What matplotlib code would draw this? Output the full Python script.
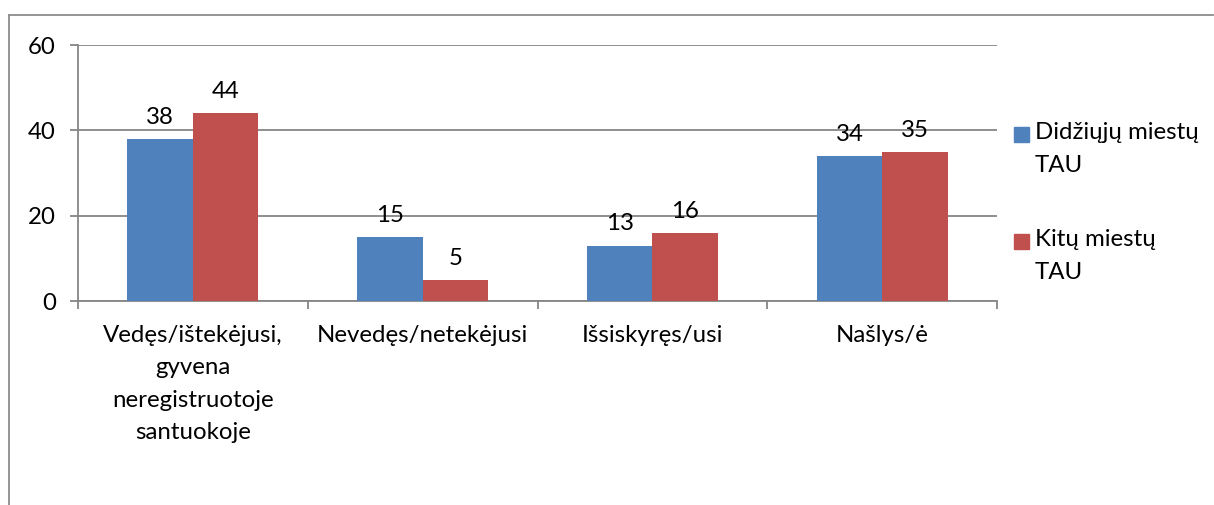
import matplotlib
matplotlib.use("Agg")
import matplotlib.pyplot as plt
from matplotlib.patches import Rectangle
from matplotlib.lines import Line2D
import numpy as np

categories = ["Vedęs/ištekėjusi,\ngyvena\nneregistruotoje\nsantuokoje",
              "Nevedęs/netekėjusi", "Išsiskyręs/usi", "Našlys/ė"]
series_names = ["Didžiųjų miestų\nTAU", "Kitų miestų\nTAU"]
big_cities = [38, 15, 13, 34]
other_cities = [44, 5, 16, 35]
yticks = [0, 20, 40, 60]

blue = "#4F81BD"
red = "#C0504D"
grid_c = "#868686"
FONT = "Lato"
FS = 17.3

plt.rcParams['font.family'] = [FONT, 'DejaVu Sans']

W, H = 1214, 505
fig = plt.figure(figsize=(W / 100, H / 100), dpi=100)
ax = fig.add_axes([78 / W, 1 - 301 / H, (997 - 78) / W, (301 - 45) / H])

x = np.arange(len(categories))
bw = 0.285
b1 = ax.bar(x - bw / 2, big_cities, bw, color=blue, zorder=3)
b2 = ax.bar(x + bw / 2, other_cities, bw, color=red, zorder=3)
for bars, vals in ((b1, big_cities), (b2, other_cities)):
    for r, v in zip(bars, vals):
        ax.annotate(str(v), (r.get_x() + r.get_width() / 2, v),
                    xytext=(0, 8), textcoords="offset points",
                    ha="center", va="bottom", fontsize=FS, color="black")

ax.set_xlim(-0.5, len(categories) - 0.5)
ax.set_ylim(0, 60)
ax.set_yticks(yticks)
ax.set_yticklabels([str(t) for t in yticks], fontsize=FS)
ax.yaxis.grid(True, color=grid_c, linewidth=1.3, zorder=0)
ax.tick_params(axis="y", length=6, width=1.3, color=grid_c, pad=10)

# category ticks at boundaries, labels at centers
ax.set_xticks(np.arange(len(categories) + 1) - 0.5)
ax.set_xticklabels([])
ax.set_xticks(x, minor=True)
ax.set_xticklabels(categories, minor=True, fontsize=FS, linespacing=1.68)
ax.tick_params(axis="x", which="major", length=6, width=1.3, color=grid_c)
ax.tick_params(axis="x", which="minor", length=0, pad=17)

for s in ("top", "right"):
    ax.spines[s].set_visible(False)
for s in ("left", "bottom"):
    ax.spines[s].set_color(grid_c)
    ax.spines[s].set_linewidth(1.3)

# outer chart border
fig.add_artist(Line2D([8.5 / W, 8.5 / W], [0, 1 - 15 / H], transform=fig.transFigure,
                      color="#8c8c8c", linewidth=1.3))
fig.add_artist(Line2D([8.5 / W, 1213 / W], [1 - 15 / H, 1 - 15 / H], transform=fig.transFigure,
                      color="#8c8c8c", linewidth=1.3))

# legend (manual, to align squares with first text line)
for name, col, ytop in ((series_names[0], blue, 127), (series_names[1], red, 234)):
    fig.add_artist(Rectangle((1014 / W, 1 - (ytop + 15) / H), 15 / W, 15 / H,
                             transform=fig.transFigure, color=col))
    fig.text(1035 / W, 1 - (ytop - 5) / H, name, fontsize=FS, va="top", ha="left",
             linespacing=1.72)

fig.savefig("out.png", dpi=100)
